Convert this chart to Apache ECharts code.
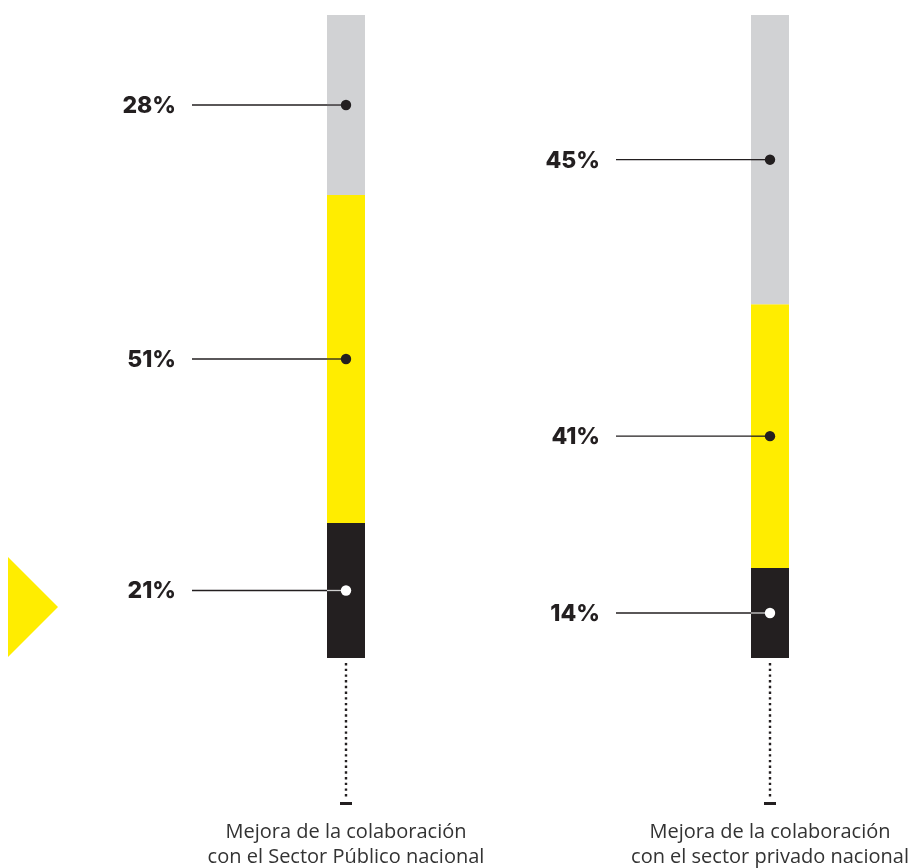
<!DOCTYPE html>
<html><head><meta charset="utf-8">
<script src="https://cdn.jsdelivr.net/npm/echarts@6/dist/echarts.min.js"></script>
<style>html,body{margin:0;padding:0;background:#fff}#c{width:914px;height:868px}</style>
</head><body><div id="c"></div>
<script>
const categories = ['Mejora de la colaboración\ncon el Sector Público nacional', 'Mejora de la colaboración\ncon el sector privado nacional'];
const darkValues = [21, 14];
const yellowValues = [51, 41];
const greyValues = [28, 45];
const segColors = ['#231f20', '#ffed00', '#d1d2d4'];
const segments = [darkValues, yellowValues, greyValues];

const chart = echarts.init(document.getElementById('c'));

const labelData = [];
categories.forEach((c, i) => {
  let base = 0;
  segments.forEach((arr, s) => {
    labelData.push([i, base, arr[i], s]);
    base += arr[i];
  });
});

const barSeries = segments.map((arr, s) => ({
  type: 'bar', stack: 'total', data: arr, barWidth: 38,
  itemStyle: { color: segColors[s] }, silent: true, z: 2
}));

chart.setOption({
  animation: false,
  grid: { left: 346, top: 15, width: 424, height: 643, outerBoundsMode: 'none', containLabel: false },
  xAxis: {
    type: 'category', data: categories, boundaryGap: false,
    axisLine: { show: false }, axisTick: { show: false },
    axisLabel: { margin: 162, fontSize: 20, lineHeight: 25, color: '#333', fontFamily: 'Open Sans', align: 'center' }
  },
  yAxis: { type: 'value', min: 0, max: 100, show: false },
  graphic: [{ type: 'polygon', shape: { points: [[8, 557], [58, 607], [8, 657]] }, style: { fill: '#ffed00' } }],
  series: barSeries.concat([
    {
      type: 'custom', z: 5, data: labelData,
      renderItem: (params, api) => {
        const i = api.value(0), base = api.value(1), v = api.value(2), s = api.value(3);
        const p = api.coord([i, base + v / 2]);
        const x0 = p[0] - 154, xb = p[0] - 19;
        const onDark = s === 0;
        return {
          type: 'group', children: [
            { type: 'line', shape: { x1: x0, y1: p[1], x2: xb, y2: p[1] }, style: { stroke: '#231f20', lineWidth: 1.3 } },
            { type: 'line', shape: { x1: xb, y1: p[1], x2: p[0], y2: p[1] }, style: { stroke: onDark ? '#cfcfcf' : '#231f20', lineWidth: 1.3 } },
            { type: 'circle', shape: { cx: p[0], cy: p[1], r: 5.2 }, style: { fill: onDark ? '#ffffff' : '#231f20' } },
            { type: 'text', x: p[0] - 170, y: p[1] + 1, style: { text: v + '%', fill: '#231f20', font: '800 23px Inter', align: 'right', verticalAlign: 'middle' } }
          ]
        };
      }
    },
    {
      type: 'custom', z: 5, data: categories.map((c, i) => [i, 0]),
      renderItem: (params, api) => {
        const p = api.coord([api.value(0), 0]);
        return {
          type: 'group', children: [
            { type: 'line', shape: { x1: p[0], y1: p[1] + 5, x2: p[0], y2: p[1] + 141 }, style: { stroke: '#231f20', lineWidth: 2.4, lineDash: [2.4, 3.3] } },
            { type: 'rect', shape: { x: p[0] - 6, y: p[1] + 144, width: 12, height: 3 }, style: { fill: '#231f20' } }
          ]
        };
      }
    }
  ])
});
</script></body></html>
